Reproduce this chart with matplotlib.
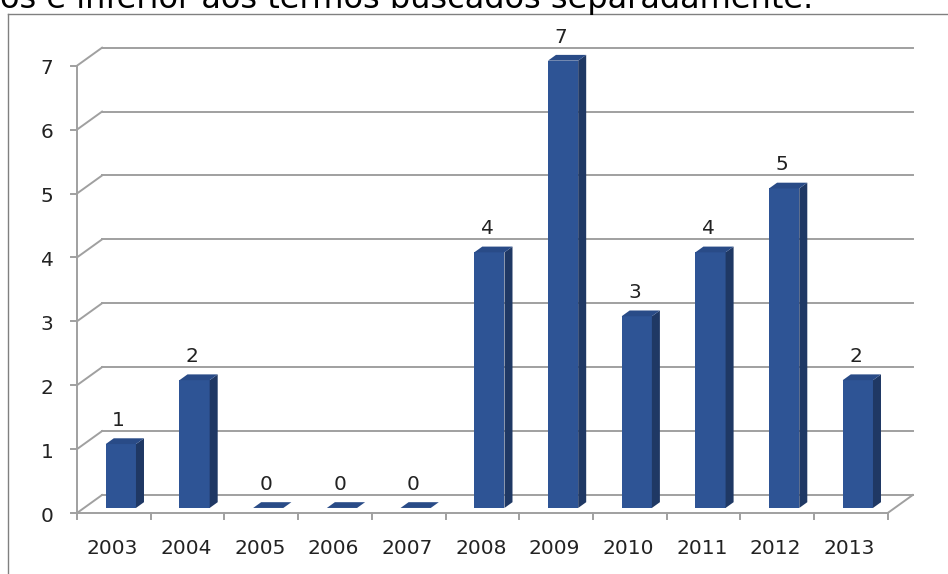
import matplotlib.pyplot as plt
from matplotlib.patches import Polygon

years = ['2003', '2004', '2005', '2006', '2007', '2008', '2009', '2010', '2011', '2012', '2013']
counts = [1, 2, 0, 0, 0, 4, 7, 3, 4, 5, 2]
yticks = [0, 1, 2, 3, 4, 5, 6, 7]
caption = 'os é inferior aos termos buscados separadamente.'

front_col = '#2e5495'
side_col = '#1f3864'
top_col = '#294b87'
grid_col = '#a0a0a0'
txt_col = '#222222'
fs = 14.5

# 3d look: back wall offset in data units, bar depth range as fraction
DX, DY = 0.34, 0.282
d0, d1 = 0.28, 0.60
bw = 0.41

W, H = 948, 574
fig = plt.figure(figsize=(W / 100, H / 100), dpi=100)

# frame around the chart
fig.add_artist(plt.Line2D([8 / W, 8 / W], [0, 1 - 14 / H], transform=fig.transFigure, color='#808080', lw=1))
fig.add_artist(plt.Line2D([8 / W, 1], [1 - 14 / H, 1 - 14 / H], transform=fig.transFigure, color='#808080', lw=1))
fig.text(0, 1 - 8 / H, caption, fontsize=23, va='baseline', ha='left', family='DejaVu Sans')

left, right, bottom, top = 77, 930, 513, 30
ax = fig.add_axes([left / W, (H - bottom) / H, (right - left) / W, (bottom - top) / H])
n = len(years)
ax.set_xlim(-0.5, -0.5 + (right - left) / 73.7)
ax.set_ylim(0, (bottom - top) / 63.9)
ax.axis('off')

x0, x1 = -0.5, n - 0.5
# back wall grid lines + left wall diagonals
for v in yticks:
    ax.plot([x0 + DX, x1 + DX], [v + DY, v + DY], color=grid_col, lw=1.4, zorder=1, clip_on=False)
    ax.plot([x0, x0 + DX], [v, v + DY], color=grid_col, lw=1.4, zorder=1, clip_on=False)
    ax.plot([x0 - 0.08, x0], [v, v], color=grid_col, lw=1.4, zorder=1, clip_on=False)
    ax.text(x0 - 0.32, v - 0.05, str(v), ha='right', va='center', fontsize=fs, color=txt_col)
# floor
ax.plot([x0, x1], [0, 0], color=grid_col, lw=1.4, zorder=1, clip_on=False)
ax.plot([x1, x1 + DX], [0, DY], color=grid_col, lw=1.4, zorder=1, clip_on=False)
ax.plot([x0, x0], [0, yticks[-1]], color=grid_col, lw=1.4, zorder=1, clip_on=False)
for k in range(n + 1):
    ax.plot([x0 + k, x0 + k], [0, -0.1], color=grid_col, lw=1.4, zorder=1, clip_on=False)

for i, (yr, v) in enumerate(zip(years, counts)):
    xl = i - bw / 2
    xr = i + bw / 2
    front = [(xl + d0 * DX, d0 * DY), (xr + d0 * DX, d0 * DY), (xr + d0 * DX, v + d0 * DY), (xl + d0 * DX, v + d0 * DY)]
    side = [(xr + d0 * DX, d0 * DY), (xr + d1 * DX, d1 * DY), (xr + d1 * DX, v + d1 * DY), (xr + d0 * DX, v + d0 * DY)]
    topf = [(xl + d0 * DX, v + d0 * DY), (xr + d0 * DX, v + d0 * DY), (xr + d1 * DX, v + d1 * DY), (xl + d1 * DX, v + d1 * DY)]
    if v > 0:
        ax.add_patch(Polygon(front, closed=True, fc=front_col, ec='none', zorder=3))
        ax.add_patch(Polygon(side, closed=True, fc=side_col, ec='none', zorder=3))
    ax.add_patch(Polygon(topf, closed=True, fc=top_col, ec='none', zorder=3))
    ax.annotate(str(v), (i + d0 * DX - 0.03, v + d1 * DY), xytext=(0, 6), textcoords='offset points',
                ha='center', va='bottom', fontsize=fs, color=txt_col)
    ax.text(i - 0.02, -0.55, yr, ha='center', va='center', fontsize=fs, color=txt_col)

fig.savefig('out.png', dpi=100)
